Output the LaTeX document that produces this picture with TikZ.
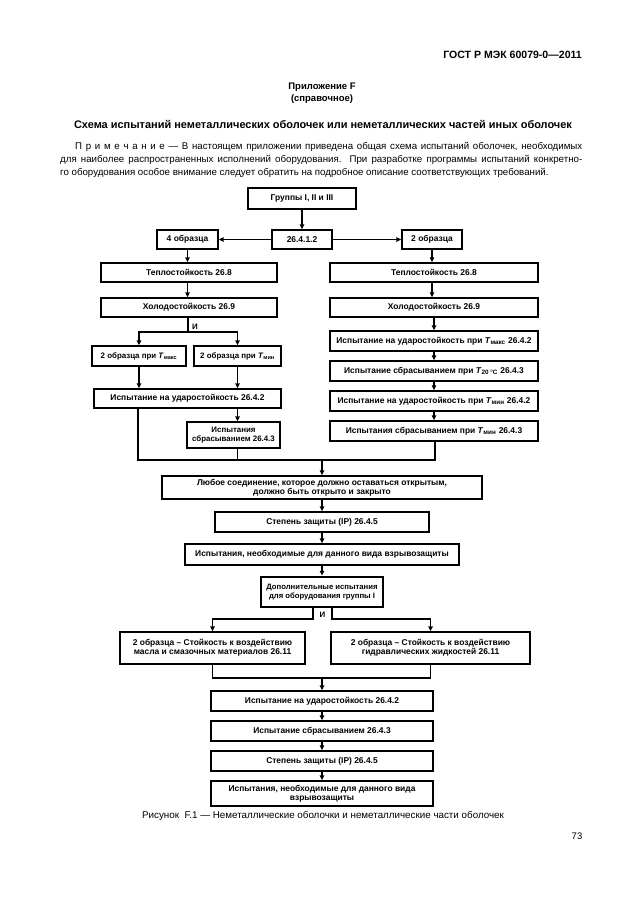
\documentclass[tikz,border=0pt]{standalone}
\usepackage{fontspec}
\setmainfont{Liberation Sans}
\usetikzlibrary{arrows.meta}
\newcommand\bxx[7][]{\node[bx,#1,minimum width={(#5-#3)/3*1mm},minimum height={(#6-#4)/3*1mm}] (#2) at ({(#3+#5)/2},{(#4+#6)/2}) {#7};}
\newcommand\Tsub[1]{\textit{T}\textsubscript{#1}}
\begin{document}
\begin{tikzpicture}[x=0.33333mm,y=-0.33333mm,
 bx/.style={draw,line width=1.5pt,inner sep=1pt,align=center,font=\bfseries\fontsize{8}{8.6}\selectfont},
 bxt/.style={line width=2.8pt},
 sm/.style={font=\bfseries\fontsize{7.5}{8.6}\selectfont},
 ln/.style={line width=1.1pt},
 arr/.style={ln,-{Triangle[length=4.5pt,width=4.2pt]}},
 txt/.style={inner sep=0pt},
]
\useasboundingbox[fill=white] (0,0) rectangle (630,913);
% page texts
\node[txt,anchor=east,font=\bfseries\fontsize{10}{12}\selectfont] (hdr) at (582,55) {ГОСТ Р МЭК 60079-0—2011};
\node[txt,font=\bfseries\fontsize{9}{11}\selectfont] (app) at (322,87) {Приложение F};
\node[txt,font=\bfseries\fontsize{9}{11}\selectfont] (ref) at (322,99) {(справочное)};
\node[txt,font=\bfseries\fontsize{10.4}{12}\selectfont] (ttl) at (323,124) {Схема испытаний неметаллических оболочек или неметаллических частей иных оболочек};
\node[txt,anchor=north west,text width=174mm,align=justify,font=\fontsize{9.2}{12}\selectfont] (note) at (60,142.5)
 {\parfillskip=0pt\hspace*{5mm}П\kern3.5pt р\kern3.5pt и\kern3.5pt м\kern3.5pt е\kern3.5pt ч\kern3.5pt а\kern3.5pt н\kern3.5pt и\kern3.5pt е — В настоящем приложении приведена общая схема испытаний оболочек, необходимых\linebreak
 для наиболее распространенных исполнений оборудования. При разработке программы испытаний конкретно-\linebreak
 го оборудования особое внимание следует обратить на подробное описание соответствующих требований.};
\node[txt,font=\fontsize{9.3}{11}\selectfont] (cap) at (323,816) {Рисунок\ \ F.1 — Неметаллические оболочки и неметаллические части оболочек};
\node[txt,font=\fontsize{9}{11}\selectfont] (pg) at (577,836) {73};
% boxes
\bxx[bxt]{g}{248}{188}{356}{209}{Группы I, II и III}
\bxx{c}{272}{230}{332}{249}{26.4.1.2}
\bxx{s4}{157}{230}{218}{249}{4 образца}
\bxx{s2}{402}{230}{462}{249}{2 образца}
\bxx{tl}{101}{263}{277}{282}{Теплостойкость 26.8}
\bxx{tr}{330}{263}{538}{282}{Теплостойкость 26.8}
\bxx{hl}{101}{298}{277}{317}{Холодостойкость 26.9}
\bxx{hr}{330}{298}{538}{317}{Холодостойкость 26.9}
\bxx[sm]{tmax}{92}{346}{186}{366}{2 образца при \Tsub{макс}}
\bxx[sm]{tmin}{194}{346}{281}{366}{2 образца при \Tsub{мин}}
\bxx{ul}{94}{389}{281}{408}{Испытание на ударостойкость 26.4.2}
\bxx[sm]{sb}{187}{422}{280}{448}{Испытания\\сбрасыванием 26.4.3}
\bxx{r1}{330}{331}{538}{351}{Испытание на ударостойкость при \Tsub{макс} 26.4.2}
\bxx{r2}{330}{361}{538}{381}{Испытание сбрасыванием при \Tsub{20 °C} 26.4.3}
\bxx{r3}{330}{391}{538}{411}{Испытание на ударостойкость при \Tsub{мин} 26.4.2}
\bxx{r4}{330}{421}{538}{441}{Испытания сбрасыванием при \Tsub{мин} 26.4.3}
\bxx{b17}{162}{476}{482}{499}{Любое соединение, которое должно оставаться открытым,\\должно быть открыто и закрыто}
\bxx{b18}{215}{512}{429}{532}{Степень защиты (IP) 26.4.5}
\bxx{b19}{185}{544}{459}{565}{Испытания, необходимые для данного вида взрывозащиты}
\bxx[bxt,font=\bfseries\fontsize{7.3}{8.6}\selectfont]{b20}{261}{577}{383}{607}{Дополнительные испытания\\для оборудования группы I}
\bxx{b21}{120}{632}{305}{664}{2 образца – Стойкость к воздействию\\масла и смазочных материалов 26.11}
\bxx{b22}{331}{632}{530}{664}{2 образца – Стойкость к воздействию\\гидравлических жидкостей 26.11}
\bxx{b23}{211}{691}{433}{711}{Испытание на ударостойкость 26.4.2}
\bxx{b24}{211}{721}{433}{741}{Испытание сбрасыванием 26.4.3}
\bxx{b25}{211}{751}{433}{771}{Степень защиты (IP) 26.4.5}
\bxx{b26}{211}{781}{433}{806}{Испытания, необходимые для данного вида\\взрывозащиты}
% connectors top
\draw[arr] (g) -- (c);
\draw[arr] (c) -- (s4);
\draw[arr] (c) -- (s2);
\draw[arr] (s4) -- (s4 |- tl.north);
\draw[arr] (tl.south -| s4) -- (hl.north -| s4);
\draw[arr] (s2) -- (s2 |- tr.north);
\draw[arr] (tr.south -| s2) -- (hr.north -| s2);
% left branch
\coordinate (j1) at (188,332);
\draw[ln] (hl.south -| j1) -- (j1);
\draw[arr] (j1) -| (tmax);
\draw[arr] (j1) -| (tmin);
\node[txt,anchor=south west,font=\bfseries\fontsize{7.5}{8}\selectfont] (and1) at (192,330) {И};
\draw[arr] (tmax) -- (tmax |- ul.north);
\draw[arr] (tmin) -- (tmin |- ul.north);
\draw[arr] (ul.south -| tmin) -- (sb.north -| tmin);
% right chain
\draw[arr] (hr) -- (r1);
\draw[arr] (r1) -- (r2);
\draw[arr] (r2) -- (r3);
\draw[arr] (r3) -- (r4);
% join
\coordinate (jL) at (138,460);
\coordinate (jR) at (435,460);
\coordinate (jM) at (322,460);
\draw[ln] (ul.south -| jL) -- (jL) -- (jR) -- (r4.south -| jR);
\draw[ln] (sb.south -| tmin) -- (jL -| tmin);
\draw[arr] (jM) -- (b17);
\draw[arr] (b17) -- (b18);
\draw[arr] (b18) -- (b19);
\draw[arr] (b19) -- (b20);
% split below b20
\coordinate (sL) at (313,619);
\coordinate (sR) at (332,619);
\draw[arr] (b20.south -| sL) -- (sL) -| (b21);
\draw[arr] (b20.south -| sR) -- (sR) -| (b22);
\node[txt,font=\bfseries\fontsize{7.5}{8}\selectfont] (and2) at (322.5,615) {И};
% join below
\coordinate (kM) at (322,678);
\draw[ln] (b21.south) -- (b21.south |- kM) -- (b22.south |- kM) -- (b22.south);
\draw[arr] (kM) -- (b23);
\draw[arr] (b23) -- (b24);
\draw[arr] (b24) -- (b25);
\draw[arr] (b25) -- (b26);
\end{tikzpicture}
\end{document}
